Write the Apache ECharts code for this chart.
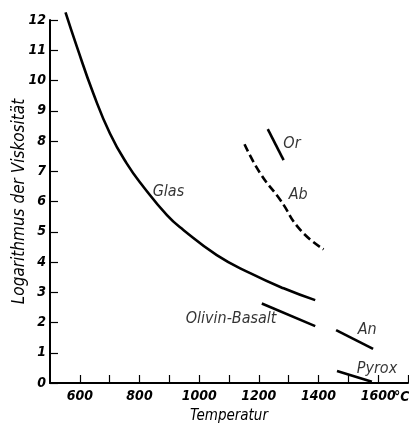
<!DOCTYPE html>
<html>
<head>
<meta charset="utf-8">
<script src="https://cdn.jsdelivr.net/npm/echarts@6/dist/echarts.min.js"></script>
<style>
html, body { margin: 0; padding: 0; background: #fff; }
#main { width: 409px; height: 425px; }
</style>
</head>
<body>
<div id="main"></div>
<script>
// Glas (Temperatur, log Viskosität)
var glas = [[552, 12.25], [590, 11.12], [645, 9.58], [701, 8.25], [757, 7.26], [813, 6.49],
    [892, 5.55], [947, 5.06], [1059, 4.23], [1171, 3.63], [1283, 3.13], [1389, 2.74]];
var orth = [[1230, 8.39], [1283, 7.37]];
var albit = [[1152, 7.89], [1205, 6.93], [1272, 6.05], [1339, 5.06], [1417, 4.42]];
var basalt = [[1210, 2.63], [1389, 1.88]];
var anorth = [[1459, 1.75], [1583, 1.13]];
var pyrox = [[1462, 0.4], [1579, 0.04]];

// Beschriftungen
var labels = [['Glas', 897, 6.32], ['Or', 1311, 7.92], ['Ab', 1332, 6.21],
    ['Olivin-Basalt', 1107, 2.12], ['An', 1563, 1.75], ['Pyrox', 1596, 0.46]];

var font = '"Liberation Sans Narrow", "DejaVu Sans Condensed", sans-serif';

function curve(data, dashed, smooth) {
    return {
        type: 'line',
        data: data,
        smooth: smooth,
        symbol: 'none',
        clip: false,
        lineStyle: {
            color: '#000',
            width: 2.6,
            type: dashed ? [8, 4] : 'solid'
        }
    };
}

var myChart = echarts.init(document.getElementById('main'));
var option = {
    backgroundColor: '#fff',
    animation: false,
    grid: {
        left: 50,
        right: 1,
        top: 20,
        bottom: 42,
        containLabel: false,
        outerBoundsMode: 'none'
    },
    xAxis: {
        type: 'value',
        min: 500,
        max: 1700,
        interval: 100,
        name: 'Temperatur',
        nameLocation: 'middle',
        nameGap: 26,
        nameMoveOverlap: false,
        nameTextStyle: { fontFamily: font, fontStyle: 'italic', fontSize: 15, color: '#000' },
        axisLine: { lineStyle: { color: '#000', width: 2 } },
        axisTick: { inside: true, length: 8, lineStyle: { color: '#000', width: 1.2 } },
        axisLabel: {
            fontFamily: font, fontStyle: 'italic', fontWeight: 'bold', fontSize: 14, color: '#000', margin: 6,
            showMinLabel: false,
            formatter: function(v) {
                return (v % 200 === 0 && v >= 600 && v <= 1600) ? v : '';
            }
        },
        splitLine: { show: false }
    },
    yAxis: {
        type: 'value',
        min: 0,
        max: 12,
        interval: 1,
        name: 'Logarithmus der Viskosität',
        nameLocation: 'middle',
        nameGap: 22,
        nameMoveOverlap: false,
        nameTextStyle: { fontFamily: font, fontStyle: 'italic', fontSize: 17, color: '#000' },
        axisLine: { lineStyle: { color: '#000', width: 2 } },
        axisTick: { inside: true, length: 8, lineStyle: { color: '#000', width: 1.2 } },
        axisLabel: { fontFamily: font, fontStyle: 'italic', fontWeight: 'bold', fontSize: 14, color: '#000', margin: 4 },
        splitLine: { show: false }
    },
    graphic: [{
        type: 'text',
        left: 394,
        top: 390,
        style: { text: '°C', font: 'italic bold 14px ' + font, fill: '#000' }
    }],
    series: [
        curve(glas, false, true),
        curve(orth, false, false),
        curve(albit, true, true),
        curve(basalt, false, false),
        curve(anorth, false, false),
        curve(pyrox, false, false),
        {
            type: 'scatter',
            symbolSize: 0,
            data: labels.map(function(v) {
                return { name: v[0], value: [v[1], v[2]] };
            }),
            label: {
                show: true,
                position: 'inside',
                formatter: '{b}',
                fontFamily: font,
                fontStyle: 'italic',
                fontSize: 16,
                color: '#000'
            }
        }
    ]
};
myChart.setOption(option);
</script>
</body>
</html>
